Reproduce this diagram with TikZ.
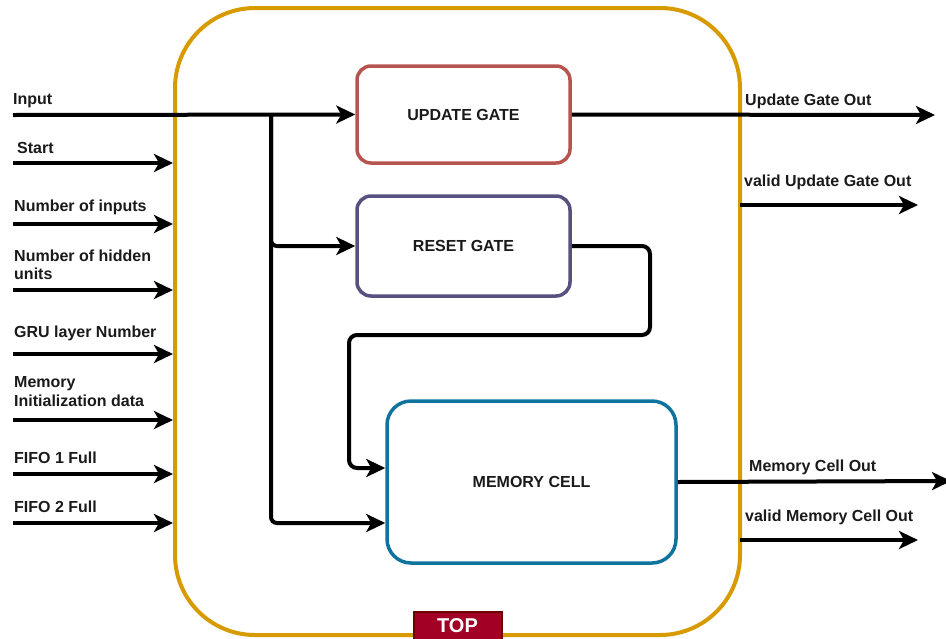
\documentclass[tikz,border=0pt]{standalone}
\usepackage{fontspec}
\setmainfont{Liberation Sans}
\usetikzlibrary{arrows.meta}
\definecolor{frameorange}{HTML}{D79B00}
\definecolor{updred}{HTML}{B85450}
\definecolor{rstpurple}{HTML}{56517E}
\definecolor{memblue}{HTML}{10739E}
\definecolor{topfill}{HTML}{A20025}
\definecolor{topline}{HTML}{6F0000}
\definecolor{txt}{HTML}{1A1A1A}
\begin{document}
\begin{tikzpicture}[x=1pt,y=-1pt,
  lbl/.style={font=\bfseries\fontsize{16}{18.5}\selectfont, inner sep=0pt, anchor=base west, text=txt},
  lbl2/.style={lbl, anchor=north west, align=left},
  wire/.style={draw=black, line width=4pt, -{Stealth[length=19pt,width=18pt,inset=5pt]}},
  gate/.style={draw, line width=3.5pt, rounded corners=14pt, fill=white, text=txt,
    font=\bfseries\fontsize{16}{18.5}\selectfont, inner sep=0pt}
]
\useasboundingbox (0,0) rectangle (946,638);

% enclosing top-level module
\node[draw=frameorange, line width=4pt, rounded corners=80pt,
      minimum width=565pt, minimum height=627pt, inner sep=0pt] (frame) at (457.5,321.5) {};

% internal blocks
\node[gate, draw=updred, minimum width=213pt, minimum height=97pt] (upd) at (463.5,114.5) {UPDATE GATE};
\node[gate, draw=rstpurple, minimum width=213pt, minimum height=100pt] (rst) at (463.5,246) {RESET GATE};
\node[gate, draw=memblue, rounded corners=24pt, minimum width=289pt, minimum height=162pt] (mem) at (531.5,482) {MEMORY CELL};

% input bus and its branches
\coordinate (inS) at (13,115);
\coordinate (br) at (271,115);
\draw[wire] (inS) -- (upd.west);
\draw[wire, rounded corners=6pt] (br) |- (rst.west);
\draw[wire, rounded corners=6pt] (br) |- ([yshift=-41pt]mem.west);
\node[lbl] (lIn) at (13,104) {Input};

% reset gate feeds the memory cell
\coordinate (r1) at (650,246);
\coordinate (r2) at (650,335);
\coordinate (r3) at (349,335);
\draw[wire, rounded corners=8pt] (rst.east) -- (r1) -- (r2) -- (r3) |- ([yshift=14pt]mem.west);

% control inputs on the left
\coordinate (sStart) at (13,163);
\coordinate (sNin) at (13,224);
\coordinate (sNhid) at (13,290);
\coordinate (sGru) at (13,354);
\coordinate (sMem) at (13,420);
\coordinate (sF1) at (13,474);
\coordinate (sF2) at (13,523);
\foreach \s in {sStart,sNin,sNhid,sGru,sMem,sF1,sF2}
  \draw[wire] (\s) -- (\s -| frame.west);

\node[lbl] (lStart) at (17,153) {Start};
\node[lbl] (lNin) at (14,211) {Number of inputs};
\node[lbl2] (lNhid) at (14,249.5) {Number of hidden\\units};
\node[lbl] (lGru) at (14,337) {GRU layer Number};
\node[lbl2] (lMem) at (14,376.5) {Memory\\Initialization data};
\node[lbl] (lF1) at (14,463) {FIFO 1 Full};
\node[lbl] (lF2) at (14,512) {FIFO 2 Full};

% outputs on the right
\coordinate (oUpd) at (935,115);
\coordinate (vUpdS) at (740,205);
\coordinate (vUpdE) at (918,205);
\coordinate (oMem) at (951,481);
\coordinate (vMemS) at (740,540);
\coordinate (vMemE) at (918,540);
\draw[wire] (upd.east) -- (oUpd);
\draw[wire] (vUpdS) -- (vUpdE);
\draw[wire] (mem.east) -- (oMem);
\draw[wire] (vMemS) -- (vMemE);

\node[lbl] (lUo) at (745,105) {Update Gate Out};
\node[lbl] (lVuo) at (744,186) {valid Update Gate Out};
\node[lbl] (lMo) at (749,471) {Memory Cell Out};
\node[lbl] (lVmo) at (745,521) {valid Memory Cell Out};

% module name tag
\node[draw=topline, fill=topfill, line width=2pt, text=white, inner sep=0pt,
      minimum width=88pt, minimum height=28pt,
      font=\bfseries\fontsize{20}{22}\selectfont] (toplbl) at (457.5,626) {TOP};
\end{tikzpicture}
\end{document}
